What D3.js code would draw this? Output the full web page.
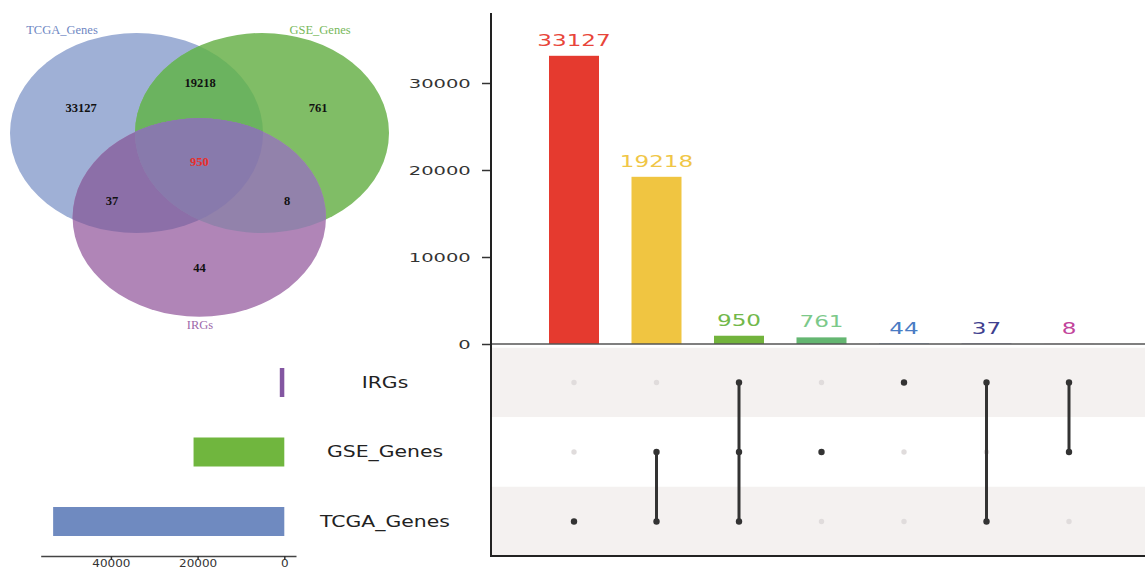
<!DOCTYPE html>
<html>
<head>
<meta charset="utf-8">
<script src="https://cdn.jsdelivr.net/npm/d3@7"></script>
<style>
  body { margin: 0; background: #ffffff; }
  svg { display: block; }
</style>
</head>
<body>
<svg id="chart" width="1145" height="570"></svg>
<script>
// ---- data ----
const setNames = ["IRGs", "GSE_Genes", "TCGA_Genes"];
const setSizes = [1039, 20937, 53332];
const setColors = ["#8356a1", "#70b63e", "#6f8ac0"];

const comboMembers = [
  ["TCGA_Genes"],
  ["TCGA_Genes", "GSE_Genes"],
  ["TCGA_Genes", "GSE_Genes", "IRGs"],
  ["GSE_Genes"],
  ["IRGs"],
  ["TCGA_Genes", "IRGs"],
  ["GSE_Genes", "IRGs"]
];
const comboCounts = [33127, 19218, 950, 761, 44, 37, 8];
const comboBarColors = ["#e53a2f", "#f0c541", "#72b33c", "#64b671", "#4a7bc5", "#3f3f8f", "#c2439b"];
const comboLabelColors = ["#e8453a", "#f0c646", "#72b84a", "#7cc98a", "#4a7cc4", "#3f3f8f", "#c2439b"];

const countTicks = [0, 10000, 20000, 30000];
const setSizeTicks = [0, 20000, 40000];

// ---- layout ----
const W = 1145, H = 570;
const svg = d3.select("#chart");
svg.append("rect").attr("width", W).attr("height", H).attr("fill", "#ffffff");

const plotLeft = 491, plotRight = 1145, baseY = 344, matrixBottom = 556;

const yCount = d3.scaleLinear().domain([0, 38000]).range([baseY, 13.4]);
const xCombo = d3.scalePoint().domain(d3.range(comboCounts.length)).range([574, 1069]);
const yRow = d3.scalePoint().domain(setNames).range([382.5, 521.5]);
const xSize = d3.scaleLinear().domain([-2700, 56200]).range([296, 40.7]);
const rowStep = yRow.step();
const barW = 50;

// ---- Venn diagram ----
const vennShapes = {
  TCGA_Genes: { cx: 136.5, cy: 133, rx: 126.5, ry: 100 },
  GSE_Genes:  { cx: 262,   cy: 133, rx: 127,   ry: 100 },
  IRGs:       { cx: 199.3, cy: 217.5, rx: 126.7, ry: 99.2 }
};
const regionFill = {
  TCGA_Genes: "#9fb0d6",
  GSE_Genes: "#80bd66",
  IRGs: "#b085b7",
  "TCGA_Genes&GSE_Genes": "#6bb35f",
  "TCGA_Genes&IRGs": "#8c6fa8",
  "GSE_Genes&IRGs": "#9282ab",
  all: "#887aac"
};
const defs = svg.append("defs");
Object.entries(vennShapes).forEach(([name, e]) => {
  defs.append("clipPath").attr("id", "clip-" + name)
    .append("ellipse").attr("cx", e.cx).attr("cy", e.cy).attr("rx", e.rx).attr("ry", e.ry);
});
const venn = svg.append("g");
function ellipse(parent, name, fill, clip) {
  const e = vennShapes[name];
  const el = parent.append("ellipse")
    .attr("cx", e.cx).attr("cy", e.cy).attr("rx", e.rx).attr("ry", e.ry)
    .attr("fill", fill);
  if (clip) el.attr("clip-path", "url(#clip-" + clip + ")");
  return el;
}
ellipse(venn, "TCGA_Genes", regionFill.TCGA_Genes);
ellipse(venn, "GSE_Genes", regionFill.GSE_Genes);
ellipse(venn, "GSE_Genes", regionFill["TCGA_Genes&GSE_Genes"], "TCGA_Genes");
ellipse(venn, "IRGs", regionFill.IRGs);
ellipse(venn, "IRGs", regionFill["TCGA_Genes&IRGs"], "TCGA_Genes");
ellipse(venn, "IRGs", regionFill["GSE_Genes&IRGs"], "GSE_Genes");
const centerGroup = venn.append("g").attr("clip-path", "url(#clip-TCGA_Genes)");
ellipse(centerGroup, "IRGs", regionFill.all, "GSE_Genes");

// region count labels
const vennLabelPos = [[81, 108], [200, 82.7], [199.3, 162], [318, 108], [199.5, 268], [112, 201], [287, 201]];
venn.selectAll("text.count").data(comboCounts).join("text")
  .attr("class", "count")
  .attr("x", (d, i) => vennLabelPos[i][0])
  .attr("y", (d, i) => vennLabelPos[i][1])
  .attr("text-anchor", "middle")
  .attr("dominant-baseline", "central")
  .attr("font-family", "'Liberation Serif', 'Times New Roman', serif")
  .attr("font-weight", "bold")
  .attr("font-size", 12.5)
  .attr("fill", (d, i) => comboMembers[i].length === 3 ? "#e8302a" : "#111")
  .text(d => d);

// set name labels
const vennNamePos = { TCGA_Genes: [62, 30], GSE_Genes: [320, 30], IRGs: [200, 325] };
const vennNameColor = { TCGA_Genes: "#6f87c3", GSE_Genes: "#77b85a", IRGs: "#9d69aa" };
venn.selectAll("text.setname").data(setNames).join("text")
  .attr("class", "setname")
  .attr("x", d => vennNamePos[d][0])
  .attr("y", d => vennNamePos[d][1])
  .attr("text-anchor", "middle")
  .attr("dominant-baseline", "central")
  .attr("font-family", "'Liberation Serif', 'Times New Roman', serif")
  .attr("font-size", 12.5)
  .attr("fill", d => vennNameColor[d])
  .text(d => d);

// ---- intersection size bars ----
const bars = svg.append("g");
bars.selectAll("rect").data(comboCounts).join("rect")
  .attr("x", (d, i) => xCombo(i) - barW / 2)
  .attr("y", d => yCount(d))
  .attr("width", barW)
  .attr("height", d => yCount(0) - yCount(d))
  .attr("fill", (d, i) => comboBarColors[i]);

bars.selectAll("g.vlabel").data(comboCounts).join("g")
  .attr("class", "vlabel")
  .attr("transform", (d, i) => `translate(${xCombo(i)},${yCount(d) - 10})`)
  .append("text")
  .attr("text-anchor", "middle")
  .attr("transform", "scale(1.4,1)")
  .attr("font-family", "'DejaVu Sans', sans-serif")
  .attr("font-size", 16.5)
  .attr("fill", (d, i) => comboLabelColors[i])
  .text(d => d);

// count axis
const yAxisG = svg.append("g").attr("transform", `translate(${plotLeft},0)`)
  .call(d3.axisLeft(yCount).tickValues(countTicks).tickSize(9).tickSizeOuter(0).tickFormat(d3.format("d")));
yAxisG.select(".domain").remove();
yAxisG.selectAll(".tick line").attr("stroke", "#333").attr("stroke-width", 1.5);
yAxisG.selectAll(".tick text")
  .attr("x", -13.5)
  .attr("transform", "scale(1.5,1)")
  .attr("font-family", "'DejaVu Sans', sans-serif")
  .attr("font-size", 13)
  .attr("fill", "#333");

// ---- matrix ----
const matrix = svg.append("g");
matrix.selectAll("rect.band").data(setNames).join("rect")
  .attr("class", "band")
  .attr("x", plotLeft)
  .attr("y", d => yRow(d) - rowStep / 2)
  .attr("width", plotRight - plotLeft)
  .attr("height", rowStep)
  .attr("fill", (d, i) => i % 2 === 0 ? "#f4f1f0" : "#ffffff");

const dotLayer = matrix.append("g");
const lineLayer = matrix.append("g");
const activeLayer = matrix.append("g");
comboMembers.forEach((members, i) => {
  if (members.length > 1) {
    const ys = members.map(m => yRow(m));
    lineLayer.append("line")
      .attr("x1", xCombo(i)).attr("x2", xCombo(i))
      .attr("y1", d3.min(ys)).attr("y2", d3.max(ys))
      .attr("stroke", "#333").attr("stroke-width", 3);
  }
  setNames.forEach(s => {
    const on = members.includes(s);
    (on ? activeLayer : dotLayer).append("circle")
      .attr("cx", xCombo(i)).attr("cy", yRow(s))
      .attr("r", on ? 3.2 : 2.7)
      .attr("fill", on ? "#333" : "#e0dcdc");
  });
});

// frame lines
svg.append("line").attr("x1", plotLeft).attr("x2", plotRight)
  .attr("y1", baseY).attr("y2", baseY)
  .attr("stroke", "#555").attr("stroke-width", 1.6);
svg.append("line").attr("x1", plotLeft).attr("x2", plotLeft)
  .attr("y1", 13).attr("y2", matrixBottom + 1)
  .attr("stroke", "#222").attr("stroke-width", 2);
svg.append("line").attr("x1", plotLeft).attr("x2", plotRight)
  .attr("y1", matrixBottom).attr("y2", matrixBottom)
  .attr("stroke", "#222").attr("stroke-width", 2);

// ---- set size bars ----
const sizeG = svg.append("g");
sizeG.selectAll("rect").data(setSizes).join("rect")
  .attr("x", d => xSize(d))
  .attr("y", (d, i) => yRow(setNames[i]) - 14.5)
  .attr("width", d => xSize(0) - xSize(d))
  .attr("height", 29)
  .attr("fill", (d, i) => setColors[i]);

sizeG.selectAll("g.setlabel").data(setNames).join("g")
  .attr("class", "setlabel")
  .attr("transform", d => `translate(385,${yRow(d)})`)
  .append("text")
  .attr("text-anchor", "middle")
  .attr("dominant-baseline", "central")
  .attr("transform", "scale(1.36,1)")
  .attr("font-family", "'DejaVu Sans', sans-serif")
  .attr("font-size", 15)
  .attr("fill", "#222")
  .text(d => d);

const xSizeAxis = svg.append("g").attr("transform", "translate(0,556)")
  .call(d3.axisBottom(xSize).tickValues(setSizeTicks).tickSize(4).tickSizeOuter(0).tickFormat(d3.format("d")));
xSizeAxis.select(".domain").attr("stroke", "#444").attr("stroke-width", 1.5);
xSizeAxis.selectAll(".tick line").attr("stroke", "#333").attr("stroke-width", 1.5);
xSizeAxis.selectAll(".tick text")
  .attr("y", 4)
  .attr("transform", "scale(1.2,1)")
  .attr("font-family", "'DejaVu Sans', sans-serif")
  .attr("font-size", 10)
  .attr("fill", "#333");
</script>
</body>
</html>
